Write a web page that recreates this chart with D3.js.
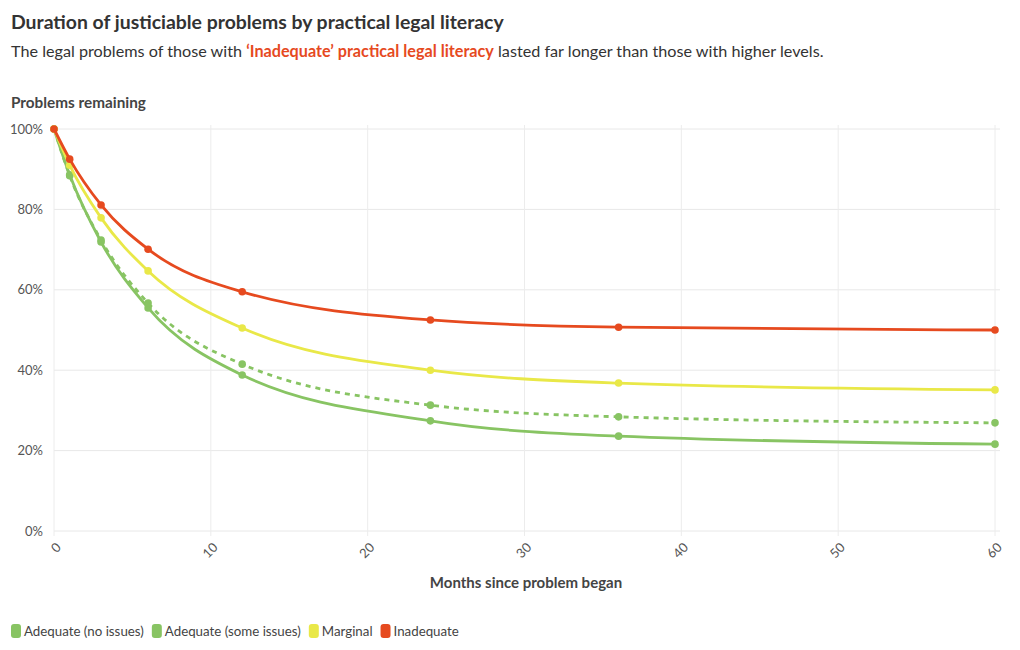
<!DOCTYPE html>
<html><head><meta charset="utf-8">
<script src="https://cdn.jsdelivr.net/npm/d3@7"></script>
<style>
body{margin:0;background:#fff;font-family:"Source Sans Pro",Lato,"Open Sans",sans-serif;}
</style></head><body>
<svg id="c" width="1020" height="650"></svg>
<script>
const months = [0, 1, 3, 6, 12, 24, 36, 60];
const adequateNoIssues = [100, 88.6, 71.9, 55.5, 38.8, 27.4, 23.6, 21.6];
const adequateSomeIssues = [100, 88.4, 72.4, 56.7, 41.5, 31.3, 28.4, 26.9];
const marginal = [100, 91.0, 77.9, 64.7, 50.5, 40.0, 36.8, 35.1];
const inadequate = [100, 92.5, 81.1, 70.1, 59.5, 52.5, 50.7, 50.0];
const seriesNames = ["Adequate (no issues)", "Adequate (some issues)", "Marginal", "Inadequate"];
const seriesColors = ["#88c463", "#88c463", "#e9e848", "#e64a1f"];
const seriesDashed = [false, true, false, false];
const xTicks = [0, 10, 20, 30, 40, 50, 60];
const yTicks = [0, 20, 40, 60, 80, 100];

const allValues = [adequateNoIssues, adequateSomeIssues, marginal, inadequate];
const svg = d3.select("#c");
const x = d3.scaleLinear().domain([0, 60]).range([54, 995]);
const y = d3.scaleLinear().domain([0, 100]).range([531, 129]);

svg.append("text").attr("x", 11).attr("y", 29).attr("font-size", 19.4).attr("font-weight", 700)
  .attr("fill", "#333").text("Duration of justiciable problems by practical legal literacy");
const sub = svg.append("text").attr("x", 11).attr("y", 57).attr("font-size", 16.2).attr("fill", "#333");
sub.append("tspan").text("The legal problems of those with ");
sub.append("tspan").attr("font-weight", 700).attr("fill", "#e64a1f").text("‘Inadequate’ practical legal literacy");
sub.append("tspan").text(" lasted far longer than those with higher levels.");

svg.append("text").attr("x", 11).attr("y", 108).attr("font-size", 15.3).attr("font-weight", 700)
  .attr("fill", "#444").text("Problems remaining");

// grid
const g = svg.append("g");
g.selectAll(".hg").data(yTicks).join("line")
  .attr("x1", 54).attr("x2", 1000).attr("y1", d => y(d)).attr("y2", d => y(d))
  .attr("stroke", "#e8e8e8").attr("stroke-width", 1);
g.selectAll(".vg").data(xTicks).join("line")
  .attr("x1", d => x(d)).attr("x2", d => x(d)).attr("y1", 125).attr("y2", 536)
  .attr("stroke", "#ececec").attr("stroke-width", 1);

// y axis labels
const yAxis = d3.axisLeft(y).tickValues(yTicks).tickFormat(d => d + "%").tickSize(0).tickPadding(11);
const ya = svg.append("g").attr("transform", "translate(54,0)").call(yAxis);
ya.select(".domain").remove();
ya.selectAll("text").attr("font-size", 13).attr("fill", "#555").attr("font-family", "'Source Sans Pro',Lato,sans-serif");

// x axis labels
const xAxis = d3.axisBottom(x).tickValues(xTicks).tickSize(0).tickPadding(0);
const xa = svg.append("g").attr("transform", "translate(0,531)").call(xAxis);
xa.select(".domain").remove();
xa.selectAll("text").attr("font-size", 13).attr("fill", "#555")
  .attr("font-family", "'Source Sans Pro',Lato,sans-serif")
  .attr("text-anchor", "end").attr("dy", "0.35em")
  .attr("transform", "translate(4,14) rotate(-45)");

svg.append("text").attr("x", 526).attr("y", 588).attr("text-anchor", "middle")
  .attr("font-size", 15).attr("font-weight", 700).attr("fill", "#444").text("Months since problem began");

const line = d3.line().x((d, i) => x(months[i])).y(d => y(d)).curve(d3.curveMonotoneX);
const order = [0, 1, 2, 3];
order.forEach(si => {
  const vals = allValues[si];
  svg.append("path").attr("d", line(vals)).attr("fill", "none")
    .attr("stroke", seriesColors[si]).attr("stroke-width", 2.8)
    .attr("stroke-dasharray", seriesDashed[si] ? "5,5" : null);
  svg.append("g").selectAll("circle").data(vals).join("circle")
    .attr("cx", (d, i) => x(months[i])).attr("cy", d => y(d)).attr("r", 3.8)
    .attr("fill", seriesColors[si]);
});

// legend
const lg = svg.append("g").attr("transform", "translate(11,631)");
let lx = 0;
seriesNames.forEach((n, i) => {
  const it = lg.append("g").attr("transform", `translate(${lx},0)`);
  it.append("rect").attr("x", 0).attr("y", -7).attr("width", 10).attr("height", 14).attr("rx", 3)
    .attr("fill", seriesColors[i]);
  const t = it.append("text").attr("x", 13).attr("y", 5).attr("font-size", 13.3).attr("fill", "#444").text(n);
  lx += 13 + t.node().getComputedTextLength() + 8;
});
</script>
</body></html>
